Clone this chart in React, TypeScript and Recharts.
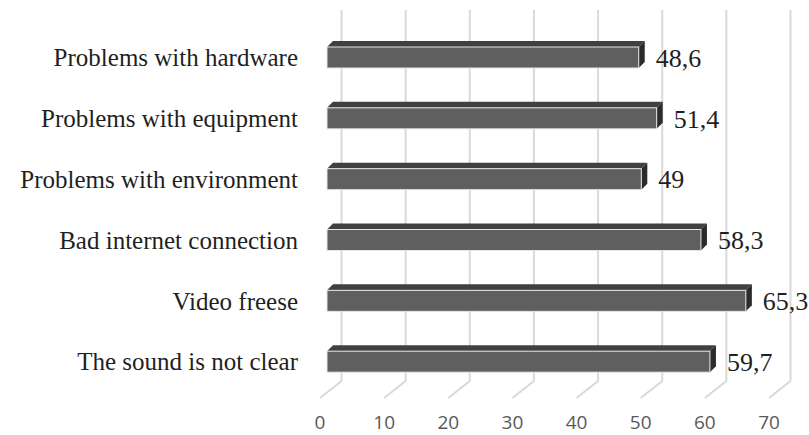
import { BarChart, Bar, XAxis, YAxis, CartesianGrid, LabelList } from "recharts";

const categories = [
  "Problems with hardware",
  "Problems with equipment",
  "Problems with environment",
  "Bad internet connection",
  "Video freese",
  "The sound is not clear",
];
const values = [48.6, 51.4, 49, 58.3, 65.3, 59.7];
const xTicks = [0, 10, 20, 30, 40, 50, 60, 70];

const data = categories.map((name, i) => ({ name, value: values[i] }));

const SHIFT = 7; // front face offset from floor
const DEPTH = 6; // bar depth

const Bar3D = (props: any) => {
  const { x, y, width, height } = props;
  const fx = x + SHIFT;
  const rx = fx + width;
  return (
    <g>
      <polygon
        points={`${fx},${y} ${fx + DEPTH},${y - DEPTH} ${rx + DEPTH},${y - DEPTH} ${rx},${y}`}
        fill="#404040"
      />
      <polygon
        points={`${rx},${y} ${rx + DEPTH},${y - DEPTH} ${rx + DEPTH},${y + height - DEPTH} ${rx},${y + height}`}
        fill="#2b2b2b"
      />
      <rect x={fx} y={y} width={width} height={height} fill="#5f5f5f" stroke="#e6e6e6" strokeWidth={1} />
    </g>
  );
};

const GridLine = (props: any) => {
  const { x1, y1, y2 } = props;
  const bx = x1 + 21.5;
  return (
    <polyline
      points={`${bx},${y1 - 17} ${bx},${y2 - 11} ${x1},${y2 + 6}`}
      fill="none"
      stroke="#d9d9d9"
      strokeWidth={2}
    />
  );
};

export default function App() {
  return (
    <div style={{ position: "absolute", left: 0, top: 0, width: 809, height: 435, background: "#fff" }}>
      <BarChart
        width={809}
        height={435}
        data={data}
        layout="vertical"
        margin={{ top: 27, right: 40, left: 0, bottom: 0 }}
        barCategoryGap={0}
      >
        <CartesianGrid horizontal={false} vertical={GridLine} />
        <XAxis
          type="number"
          domain={[0, 70]}
          ticks={xTicks}
          axisLine={false}
          tickLine={false}
          tickSize={0}
          tickMargin={24}
          height={43}
          interval={0}
          tick={{ fill: "#595959", fontSize: 19, fontFamily: "Open Sans" }}
        />
        <YAxis
          type="category"
          dataKey="name"
          width={320}
          axisLine={false}
          tickLine={false}
          tickSize={0}
          tickMargin={22}
          interval={0}
          tick={{ fill: "#1f1f1f", fontSize: 25, fontFamily: "Liberation Serif" }}
        />
        <Bar dataKey="value" barSize={21} shape={Bar3D} isAnimationActive={false}>
          <LabelList
            dataKey="value"
            position="right"
            offset={24}
            formatter={(v: any) => String(v).replace(".", ",")}
            style={{ fill: "#1f1f1f", fontSize: 26, fontFamily: "Liberation Serif" }}
          />
        </Bar>
      </BarChart>
    </div>
  );
}
